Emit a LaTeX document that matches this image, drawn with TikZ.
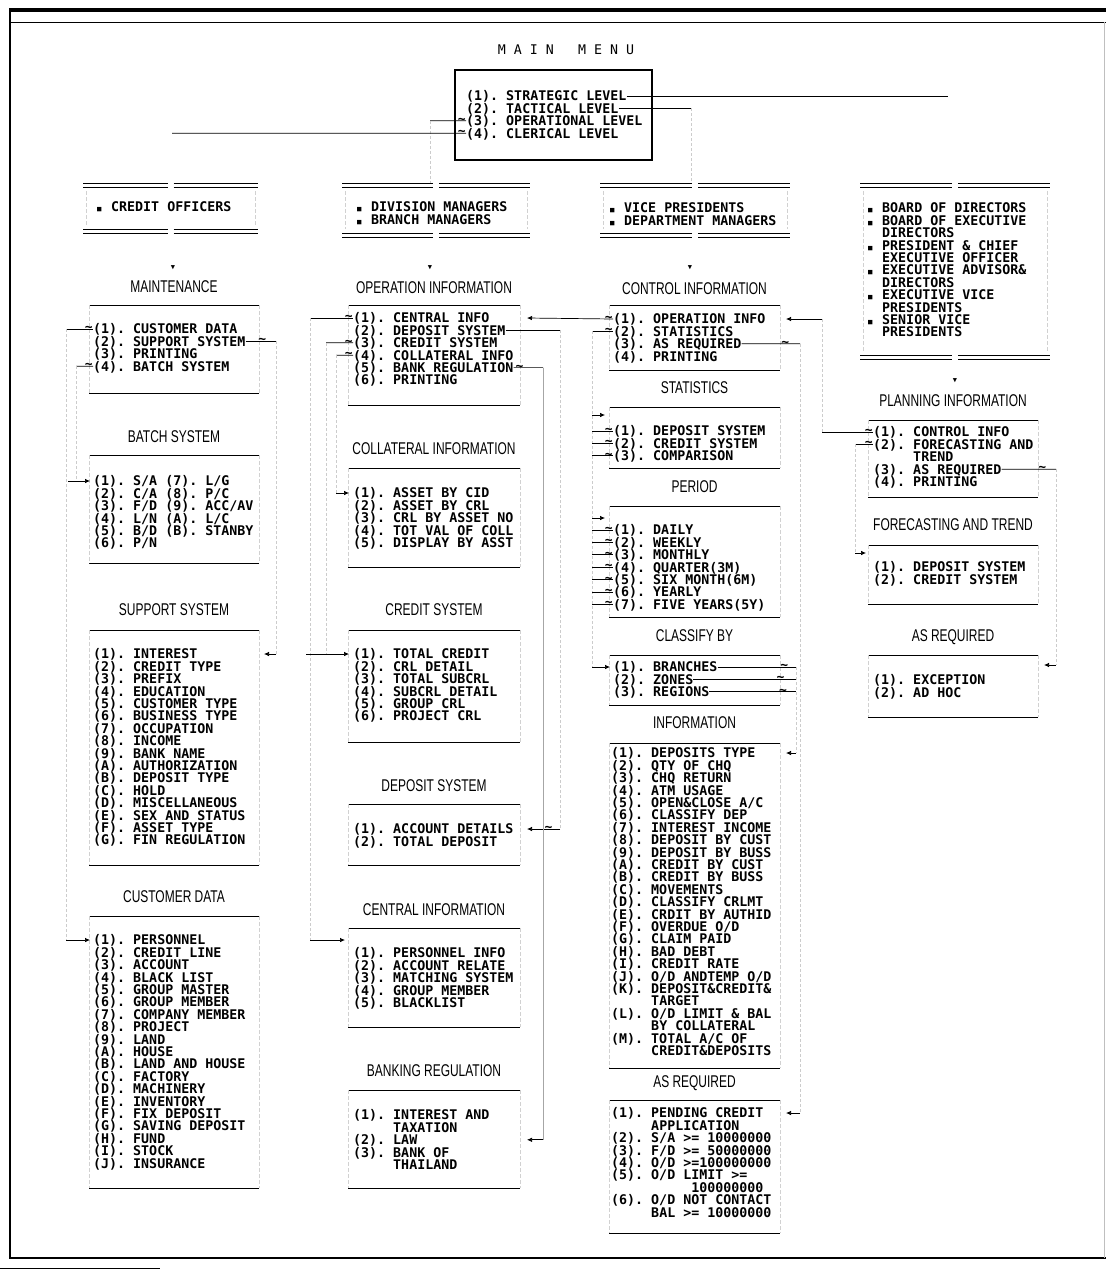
\documentclass[tikz,border=0pt]{standalone}
\usepackage{fontspec}
\setmonofont{DejaVu Sans Mono}
\setsansfont{Liberation Sans}
\usetikzlibrary{arrows.meta,positioning}

\newcommand{\hd}[1]{\scalebox{0.95}[1.35]{#1}}
\newcommand{\blt}{\makebox[0.602em]{\scalebox{0.55}{■}}}
% one text line per node, 12.4pt apart
\newcommand{\menulist}[4]{%
  \foreach \itx [count=\k] in {#4}
    \node[itm] (#1-\k) at (#2,{#3+12.4*(\k-1)}) {\itx};%
}
% heading + top/bottom rules of a menu box: name, left, right, heading y, top, bottom, heading
\newcommand{\menubox}[7]{%
  \node[hdg] (#1-h) at ({(#2+#3)/2},#4) {\hd{#7}};
  \coordinate (#1-nw) at (#2,#5);
  \coordinate (#1-ne) at (#3,#5);
  \coordinate (#1-sw) at (#2,#6);
  \coordinate (#1-se) at (#3,#6);
  \draw[boxrule] (#1-nw) -- (#1-ne);
  \draw[boxrule] (#1-sw) -- (#1-se);
  \draw[boxside] (#1-nw) -- (#1-sw) (#1-ne) -- (#1-se);
}
% double-ruled box of the user groups: name, left, right, top, bottom
\newcommand{\rolebox}[5]{%
  \coordinate (#1-nw) at (#2,#4);
  \coordinate (#1-se) at (#3,#5);
  \foreach \yy in {#4,#4+4,#5,#5+4}{
    \draw[boxrule] (#2,\yy) -- ({(#2+#3)/2-3},\yy);
    \draw[boxrule] ({(#2+#3)/2+3},\yy) -- (#3,\yy);
  }
  \draw[boxside] (#2+3,#4+8) -- (#2+3,#5-4) (#3-3,#4+8) -- (#3-3,#5-4);
}

\begin{document}
\begin{tikzpicture}[
  x=1pt, y=-1pt,
  >={Latex[length=5pt,width=4.5pt]},
  itm/.style={anchor=west, inner sep=0pt, text height=9.7pt, text depth=0pt,
    font=\ttfamily\bfseries\fontsize{13.3}{12.4}\selectfont},
  hdg/.style={inner sep=0pt, font=\sffamily\fontsize{12.6}{13}\selectfont},
  boxrule/.style={line width=0.9pt},
  boxside/.style={black!18, line width=0.5pt, dash pattern=on 4pt off 2pt},
  conn/.style={line width=0.7pt},
  faint/.style={black!20, line width=0.5pt, dash pattern=on 3pt off 2pt},
  tld/.style={inner sep=0pt, font=\ttfamily\bfseries\fontsize{13}{13}\selectfont},
  dnmark/.style={inner sep=0pt, font=\ttfamily\fontsize{7}{7}\selectfont}
]
  \useasboundingbox (0,0) rectangle (1110,1271);

  % page frame
  \draw[line width=3.6pt] (9,10) -- (1106,10);
  \draw[line width=0.8pt] (9,22) -- (1106,22);
  \draw[line width=1.8pt] (10,9) -- (10,1258);
  \draw[line width=1.1pt] (9,1258) -- (1106,1258);
  \draw[line width=0.6pt] (0,1268) -- (160,1268);
  \draw[black!25, line width=0.6pt] (1104,22) -- (1104,1258);

  % main menu
  \node[inner sep=0pt, font=\ttfamily\fontsize{13.3}{14}\selectfont] (title) at (566,50) {M A I N\ \ \ M E N U};
  \node[draw, line width=2.8pt, minimum width=197pt, minimum height=90pt, inner sep=0pt] (mainbox) at (553.5,115) {};
  \menulist{mm}{466}{96}{{(1). STRATEGIC LEVEL},{(2). TACTICAL LEVEL},{(3). OPERATIONAL LEVEL},{(4). CLERICAL LEVEL}}

  \coordinate (bdtop) at (948,96);
  \coordinate (vpturn) at (691,108.4);
  \coordinate (dmturn) at (430,120.8);
  \coordinate (coturn) at (172,133.2);
  \draw[conn] (mm-1.east) -- (bdtop);
  \draw[conn] (mm-2.east) -- (vpturn);
  \draw[faint] (vpturn) -- (691,183);
  \draw[conn] (dmturn) -- (mm-3.west) node[tld,left]{\textasciitilde};
  \draw[faint] (dmturn) -- (430,183);
  \draw[conn] (coturn) -- (mm-4.west) node[tld,left]{\textasciitilde};

  % user groups
  \rolebox{co}{83}{258}{183}{229}
  \rolebox{dm}{342}{530}{183}{233}
  \rolebox{vp}{600}{790}{183}{233}
  \rolebox{bd}{860}{1050}{183}{355}
  \node[itm] (co-1) at (95,207) {\blt\ CREDIT OFFICERS};
  \menulist{dm}{355}{207}{{\blt\ DIVISION MANAGERS},{\blt\ BRANCH MANAGERS}}
  \menulist{vp}{608}{208}{{\blt\ VICE PRESIDENTS},{\blt\ DEPARTMENT MANAGERS}}
  \menulist{bd}{866}{208}{{\blt\ BOARD OF DIRECTORS},{\blt\ BOARD OF EXECUTIVE},{\phantom{XX}DIRECTORS},{\blt\ PRESIDENT \& CHIEF},{\phantom{XX}EXECUTIVE OFFICER},{\blt\ EXECUTIVE ADVISOR\&},{\phantom{XX}DIRECTORS},{\blt\ EXECUTIVE VICE},{\phantom{XX}PRESIDENTS},{\blt\ SENIOR VICE},{\phantom{XX}PRESIDENTS}}

  \node[dnmark] (dn-co) at (173,268) {▼};
  \node[dnmark] (dn-dm) at (430,268) {▼};
  \node[dnmark] (dn-vp) at (690,268) {▼};
  \node[dnmark] (dn-bd) at (955,381) {▼};

  % credit officers column
  \menubox{mt}{89}{259}{287}{305}{393}{MAINTENANCE}
  \menulist{mt}{93}{329}{{(1). CUSTOMER DATA},{(2). SUPPORT SYSTEM},{(3). PRINTING},{(4). BATCH SYSTEM}}
  \menubox{bs}{89}{259}{437}{455}{563}{BATCH SYSTEM}
  \menulist{bs}{93}{481}{{(1). S/A (7). L/G},{(2). C/A (8). P/C},{(3). F/D (9). ACC/AV},{(4). L/N (A). L/C},{(5). B/D (B). STANBY},{(6). P/N}}
  \menubox{ss}{89}{259}{610}{630}{865}{SUPPORT SYSTEM}
  \menulist{ss}{93}{654}{{(1). INTEREST},{(2). CREDIT TYPE},{(3). PREFIX},{(4). EDUCATION},{(5). CUSTOMER TYPE},{(6). BUSINESS TYPE},{(7). OCCUPATION},{(8). INCOME},{(9). BANK NAME},{(A). AUTHORIZATION},{(B). DEPOSIT TYPE},{(C). HOLD},{(D). MISCELLANEOUS},{(E). SEX AND STATUS},{(F). ASSET TYPE},{(G). FIN REGULATION}}
  \menubox{cd}{89}{259}{897}{916}{1188}{CUSTOMER DATA}
  \menulist{cd}{93}{940}{{(1). PERSONNEL},{(2). CREDIT LINE},{(3). ACCOUNT},{(4). BLACK LIST},{(5). GROUP MASTER},{(6). GROUP MEMBER},{(7). COMPANY MEMBER},{(8). PROJECT},{(9). LAND},{(A). HOUSE},{(B). LAND AND HOUSE},{(C). FACTORY},{(D). MACHINERY},{(E). INVENTORY},{(F). FIX DEPOSIT},{(G). SAVING DEPOSIT},{(H). FUND},{(I). STOCK},{(J). INSURANCE}}

  % managers column
  \menubox{op}{348}{520}{288}{305}{405}{OPERATION INFORMATION}
  \menulist{op}{353}{318}{{(1). CENTRAL INFO},{(2). DEPOSIT SYSTEM},{(3). CREDIT SYSTEM},{(4). COLLATERAL INFO},{(5). BANK REGULATION},{(6). PRINTING}}
  \menubox{ci}{348}{520}{449}{468}{567}{COLLATERAL INFORMATION}
  \menulist{ci}{353}{493}{{(1). ASSET BY CID},{(2). ASSET BY CRL},{(3). CRL BY ASSET NO},{(4). TOT VAL OF COLL},{(5). DISPLAY BY ASST}}
  \menubox{cs}{348}{520}{610}{630}{742}{CREDIT SYSTEM}
  \menulist{cs}{353}{654}{{(1). TOTAL CREDIT},{(2). CRL DETAIL},{(3). TOTAL SUBCRL},{(4). SUBCRL DETAIL},{(5). GROUP CRL},{(6). PROJECT CRL}}
  \menubox{ds}{348}{520}{786}{804}{865}{DEPOSIT SYSTEM}
  \menulist{ds}{353}{829}{{(1). ACCOUNT DETAILS},{(2). TOTAL DEPOSIT}}
  \menubox{cn}{348}{520}{910}{928}{1027}{CENTRAL INFORMATION}
  \menulist{cn}{353}{953}{{(1). PERSONNEL INFO},{(2). ACCOUNT RELATE},{(3). MATCHING SYSTEM},{(4). GROUP MEMBER},{(5). BLACKLIST}}
  \menubox{br}{348}{520}{1071}{1090}{1188}{BANKING REGULATION}
  \menulist{br}{353}{1115}{{(1). INTEREST AND},{\phantom{(1). }TAXATION},{(2). LAW},{(3). BANK OF},{\phantom{(3). }THAILAND}}

  % vice presidents column
  \menubox{ct}{609}{780}{289}{305}{370}{CONTROL INFORMATION}
  \menulist{ct}{613}{319}{{(1). OPERATION INFO},{(2). STATISTICS},{(3). AS REQUIRED},{(4). PRINTING}}
  \menubox{st}{609}{780}{388}{407}{468}{STATISTICS}
  \menulist{st}{613}{431}{{(1). DEPOSIT SYSTEM},{(2). CREDIT SYSTEM},{(3). COMPARISON}}
  \menubox{pe}{609}{780}{487}{506}{617}{PERIOD}
  \menulist{pe}{613}{530}{{(1). DAILY},{(2). WEEKLY},{(3). MONTHLY},{(4). QUARTER(3M)},{(5). SIX MONTH(6M)},{(6). YEARLY},{(7). FIVE YEARS(5Y)}}
  \menubox{cl}{609}{780}{636}{655}{705}{CLASSIFY BY}
  \menulist{cl}{613}{667}{{(1). BRANCHES},{(2). ZONES},{(3). REGIONS}}
  \menubox{inf}{609}{780}{723}{743}{1068}{INFORMATION}
  \menulist{inf}{611}{753}{{(1). DEPOSITS TYPE},{(2). QTY OF CHQ},{(3). CHQ RETURN},{(4). ATM USAGE},{(5). OPEN\&CLOSE A/C},{(6). CLASSIFY DEP},{(7). INTEREST INCOME},{(8). DEPOSIT BY CUST},{(9). DEPOSIT BY BUSS},{(A). CREDIT BY CUST},{(B). CREDIT BY BUSS},{(C). MOVEMENTS},{(D). CLASSIFY CRLMT},{(E). CRDIT BY AUTHID},{(F). OVERDUE O/D},{(G). CLAIM PAID},{(H). BAD DEBT},{(I). CREDIT RATE},{(J). O/D ANDTEMP O/D},{(K). DEPOSIT\&CREDIT\&},{\phantom{(K). }TARGET},{(L). O/D LIMIT \& BAL},{\phantom{(L). }BY COLLATERAL},{(M). TOTAL A/C OF},{\phantom{(M). }CREDIT\&DEPOSITS}}
  \menubox{ar}{609}{780}{1083}{1100}{1233}{AS REQUIRED}
  \menulist{ar}{611}{1113}{{(1). PENDING CREDIT},{\phantom{(1). }APPLICATION},{(2). S/A >= 10000000},{(3). F/D >= 50000000},{(4). O/D >=100000000},{(5). O/D LIMIT >=},{\phantom{(5). O/D L}100000000},{(6). O/D NOT CONTACT},{\phantom{(6). }BAL >= 10000000}}

  % board column
  \menubox{pl}{868}{1038}{401}{420}{497}{PLANNING INFORMATION}
  \menulist{pl}{873}{432}{{(1). CONTROL INFO},{(2). FORECASTING AND},{\phantom{(2). }TREND},{(3). AS REQUIRED},{(4). PRINTING}}
  \menubox{ft}{868}{1038}{525}{545}{604}{FORECASTING AND TREND}
  \menulist{ft}{873}{567}{{(1). DEPOSIT SYSTEM},{(2). CREDIT SYSTEM}}
  \menubox{aq}{868}{1038}{637}{655}{717}{AS REQUIRED}
  \menulist{aq}{873}{680}{{(1). EXCEPTION},{(2). AD HOC}}

  % links out of MAINTENANCE
  \coordinate (jcd) at (66,329);
  \coordinate (jbs) at (76,366.2);
  \coordinate (jss) at (276,341.4);
  \coordinate (ssin) at (264,654);
  \draw[conn] (jcd) -- (mt-1.west) node[tld,left]{\textasciitilde};
  \draw[faint] (jcd) -- (jcd |- cd-1.west);
  \draw[conn,->] (jcd |- cd-1.west) -- ([xshift=-3pt]cd-1.west);
  \draw[conn] (jbs) -- (mt-4.west) node[tld,left]{\textasciitilde};
  \draw[faint] (jbs) -- (jbs |- bs-1.west);
  \draw[conn,->] ([xshift=-8pt]jbs |- bs-1.west) -- ([xshift=-3pt]bs-1.west);
  \draw[conn] (mt-2.east) -- (jss) node[tld,pos=0.55]{\textasciitilde};
  \draw[faint] (jss) -- (jss |- ssin);
  \draw[conn,->] (jss |- ssin) -- (ssin);

  % links out of OPERATION INFORMATION
  \coordinate (jcn) at (310,318);
  \coordinate (cnin) at (345,940);
  \coordinate (jcs) at (326,342.8);
  \coordinate (jci) at (336,355.2);
  \coordinate (jds) at (560,330.4);
  \coordinate (dsin) at (527,829);
  \coordinate (jbr) at (543,367.6);
  \coordinate (brin) at (527,1139.8);
  \draw[conn] (jcn) -- (op-1.west) node[tld,left]{\textasciitilde};
  \draw[faint] (jcn) -- (jcn |- cnin);
  \draw[conn,->] (jcn |- cnin) -- (cnin);
  \draw[conn] (jcs) -- (op-3.west) node[tld,left]{\textasciitilde};
  \draw[faint] (jcs) -- (jcs |- cs-1.west);
  \draw[conn,->] ([xshift=-20pt]jcs |- cs-1.west) -- ([xshift=-4pt]cs-1.west);
  \draw[conn] (jci) -- (op-4.west) node[tld,left]{\textasciitilde};
  \draw[faint] (jci) -- (jci |- ci-1.west);
  \draw[conn,->] (jci |- ci-1.west) -- ([xshift=-4pt]ci-1.west);
  \draw[conn] (op-2.east) -- (jds);
  \draw[faint] (jds) -- (jds |- dsin);
  \draw[conn,->] (jds |- dsin) -- (dsin) node[tld,pos=0.35]{\textasciitilde};
  \draw[conn] (op-5.east) -- (jbr) node[tld,pos=0.2]{\textasciitilde};
  \draw[black!35, line width=0.6pt] (jbr) -- (jbr |- brin);
  \draw[conn,->] (jbr |- brin) -- (brin);

  % links out of CONTROL INFORMATION
  \coordinate (opin) at (527,318);
  \coordinate (jst) at (592,331.4);
  \coordinate (stin) at (605,415);
  \coordinate (pein) at (605,518);
  \coordinate (jar) at (800,343.8);
  \coordinate (arin) at (786,1113);
  \draw[conn,->] (ct-1.west) node[tld,left]{\textasciitilde} -- (opin);
  \draw[conn] (jst) -- (ct-2.west) node[tld,left]{\textasciitilde};
  \draw[faint] (jst) -- (jst |- cl-1.west);
  \draw[conn,->] (jst |- stin) -- (stin);
  \draw[conn,->] (jst |- pein) -- (pein);
  \draw[conn,->] (jst |- cl-1.west) -- ([xshift=-3pt]cl-1.west);
  \foreach \k in {1,2,3}
    \draw[conn] (jst |- st-\k.west) -- (st-\k.west) node[tld,left]{\textasciitilde};
  \foreach \k in {1,...,7}
    \draw[conn] (jst |- pe-\k.west) -- (pe-\k.west) node[tld,left]{\textasciitilde};
  \draw[conn] (ct-3.east) -- (jar) node[tld,pos=0.75]{\textasciitilde};
  \draw[faint] (jar) -- (jar |- arin);
  \draw[conn,->] (jar |- arin) -- (arin);

  % CLASSIFY BY -> INFORMATION
  \coordinate (jcl) at (796,667);
  \coordinate (infin) at (786,753);
  \foreach \k in {1,2,3}
    \draw[conn] (cl-\k.east) -- (jcl |- cl-\k.east) node[tld,pos=0.85]{\textasciitilde};
  \draw[faint] (jcl) -- (jcl |- infin);
  \draw[conn,->] (jcl |- infin) -- (infin);

  % links out of PLANNING INFORMATION
  \coordinate (jpl) at (822,432);
  \coordinate (ctin) at (786,319);
  \coordinate (jft) at (855,444.4);
  \coordinate (ftin) at (866,553);
  \coordinate (jaq) at (1056,469.2);
  \coordinate (aqin) at (1044,665);
  \draw[conn] (jpl) -- (pl-1.west) node[tld,left]{\textasciitilde};
  \draw[faint] (jpl) -- (jpl |- ctin);
  \draw[conn,->] (jpl |- ctin) -- (ctin);
  \draw[conn] (jft) -- (pl-2.west) node[tld,left]{\textasciitilde};
  \draw[faint] (jft) -- (jft |- ftin);
  \draw[conn,->] (jft |- ftin) -- (ftin);
  \draw[conn] (pl-4.east) -- (jaq) node[tld,pos=0.75]{\textasciitilde};
  \draw[faint] (jaq) -- (jaq |- aqin);
  \draw[conn,->] (jaq |- aqin) -- (aqin);
\end{tikzpicture}
\end{document}
